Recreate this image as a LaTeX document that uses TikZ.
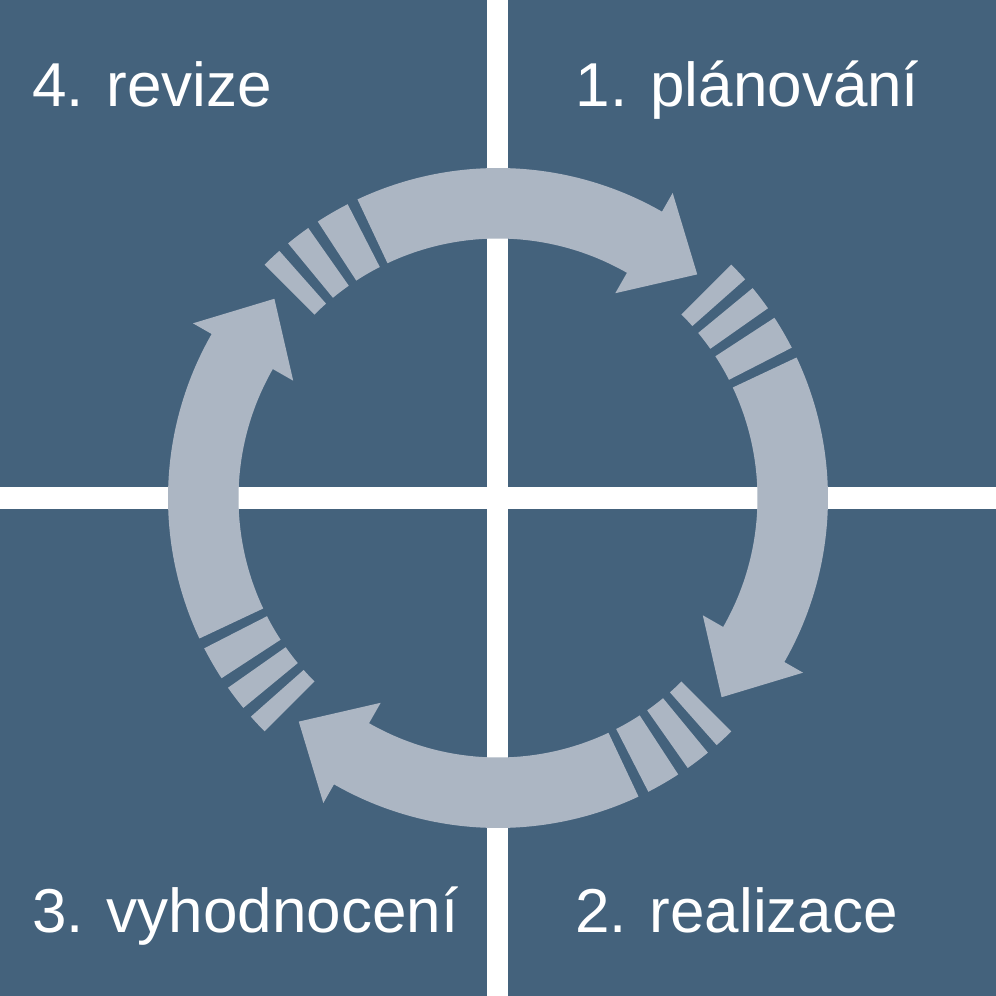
\documentclass[tikz,border=0pt]{standalone}
\usepackage{fontspec}
\setmainfont{Liberation Sans}
\definecolor{quad}{HTML}{44627C}
\definecolor{arr}{HTML}{ACB6C3}
\tikzset{
  quadbox/.style={fill=quad},
  cyclearrow/.style={fill=arr},
  label text/.style={text=white,inner sep=0pt,anchor=base west,font=\fontsize{62}{70}\selectfont}
}
\newcommand{\ringpiece}[2]{%
  \fill[cyclearrow] (#1:330) arc[start angle=#1, end angle=#2, radius=330]
    -- (#2:259.5) arc[start angle=#2, end angle=#1, radius=259.5] -- cycle;}
\begin{document}
\begin{tikzpicture}[x=1pt,y=1pt]
\useasboundingbox (-498,-498) rectangle (498,498);
\fill[white] (-498,-498) rectangle (498,498);
% quadrants
\fill[quadbox] (-498,10.5) rectangle (-10.5,498);
\fill[quadbox] (10.5,10.5) rectangle (498,498);
\fill[quadbox] (-498,-498) rectangle (-10.5,-10.5);
\fill[quadbox] (10.5,-498) rectangle (498,-10.5);
% four cycle arrows
\foreach \k in {0,1,2,3}{
  \begin{scope}[rotate=-90*\k]
    \fill[cyclearrow] (115.2:330) arc[start angle=115.2, end angle=60.2, radius=330]
      -- (60.2:351.5) -- (48.3:299.5) -- (60.2:236) -- (60.2:259.5)
      arc[start angle=60.2, end angle=115.2, radius=259.5] -- cycle;
    \ringpiece{117.1}{123.1}
    \ringpiece{125.1}{129.5}
    \ringpiece{131.5}{135.0}
  \end{scope}
}
% labels
\node[label text] (revize) at (-466,391.3) {4. revize};
\node[label text] (planovani) at (77.5,391.3) {1. plánování};
\node[label text] (vyhodnoceni) at (-466,-434.5) {3. vyhodnocení};
\node[label text] (realizace) at (77,-434) {2. realizace};
\end{tikzpicture}
\end{document}
